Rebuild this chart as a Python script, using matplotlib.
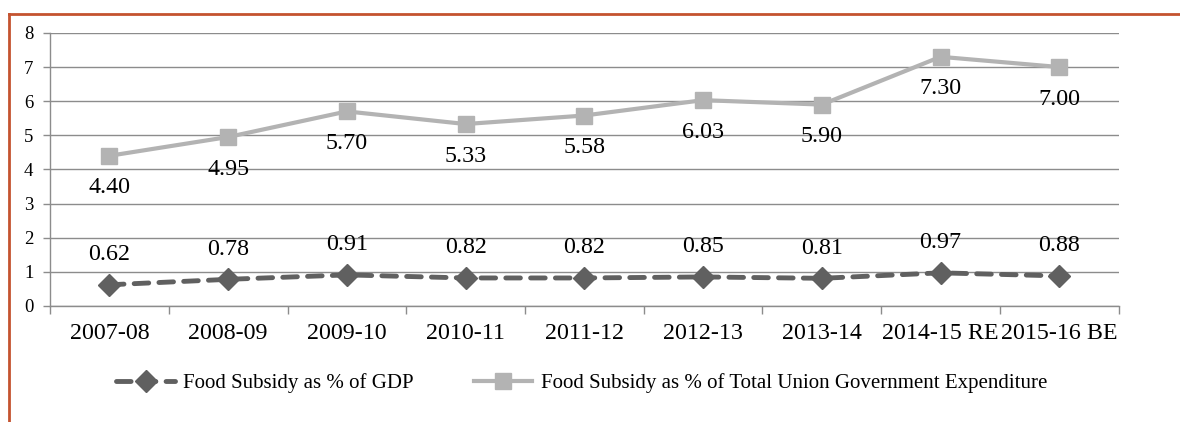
import numpy as np
import matplotlib.pyplot as plt
from matplotlib.lines import Line2D

years = ['2007-08', '2008-09', '2009-10', '2010-11', '2011-12',
         '2012-13', '2013-14', '2014-15 RE', '2015-16 BE']
pct_gdp = [0.62, 0.78, 0.91, 0.82, 0.82, 0.85, 0.81, 0.97, 0.88]
pct_expenditure = [4.40, 4.95, 5.70, 5.33, 5.58, 6.03, 5.90, 7.30, 7.00]

plt.rcParams['font.family'] = ['Liberation Serif', 'DejaVu Serif']

fig = plt.figure(figsize=(11.8, 4.22), dpi=100)
ax = fig.add_axes([0.0424, 0.275, 0.9056, 0.647])

x = np.arange(len(years))
gdp_line, = ax.plot(x, pct_gdp, color='#606060', linewidth=3.5, linestyle=(0, (3, 2.1)),
                    marker='D', markersize=11, dash_capstyle='round',
                    label='Food Subsidy as % of GDP')
exp_line, = ax.plot(x, pct_expenditure, color='#b3b3b3', linewidth=3,
                    marker='s', markersize=12,
                    label='Food Subsidy as % of Total Union Government Expenditure')

# value labels: GDP above the points, expenditure below
for xi, v in zip(x, pct_gdp):
    ax.annotate(f'{v:.2f}', (xi, v), xytext=(0, 30), textcoords='offset pixels',
                ha='center', va='center', fontsize=17.3, color='black')
for xi, v in zip(x, pct_expenditure):
    ax.annotate(f'{v:.2f}', (xi, v), xytext=(0, -32), textcoords='offset pixels',
                ha='center', va='center', fontsize=17.3, color='black')

ax.set_xlim(-0.5, len(years) - 0.5)
ax.set_ylim(0, 8)
ax.set_yticks(range(0, 9))
ax.set_xticks(x)
ax.set_xticklabels(years, fontsize=17.3)
ax.set_xticks(np.arange(-0.5, len(years)), minor=True)
ax.tick_params(axis='x', which='major', length=0, pad=12)
ax.tick_params(axis='x', which='minor', length=6, color='#8c8c8c', width=1)
ax.tick_params(axis='y', length=5, color='#8c8c8c', width=1, labelsize=13.5, pad=7)

ax.grid(axis='y', color='#8c8c8c', linewidth=1)
ax.set_axisbelow(True)
for side in ['top', 'right']:
    ax.spines[side].set_visible(False)
for side in ['left', 'bottom']:
    ax.spines[side].set_color('#8c8c8c')
    ax.spines[side].set_linewidth(1)

fig.legend(handles=[gdp_line, exp_line], loc='center', bbox_to_anchor=(0.493, 0.092),
           ncol=2, frameon=False, fontsize=15, handlelength=2.8, handletextpad=0.4,
           columnspacing=2.9, borderaxespad=0, borderpad=0)

# frame lines along the top and left edge
border = '#c4532f'
fig.add_artist(Line2D([0.0076, 1.0], [0.967, 0.967], color=border, linewidth=2,
                      transform=fig.transFigure))
fig.add_artist(Line2D([0.0076, 0.0076], [0.0, 0.967], color=border, linewidth=2,
                      transform=fig.transFigure))

fig.savefig('out.png', dpi=100)
